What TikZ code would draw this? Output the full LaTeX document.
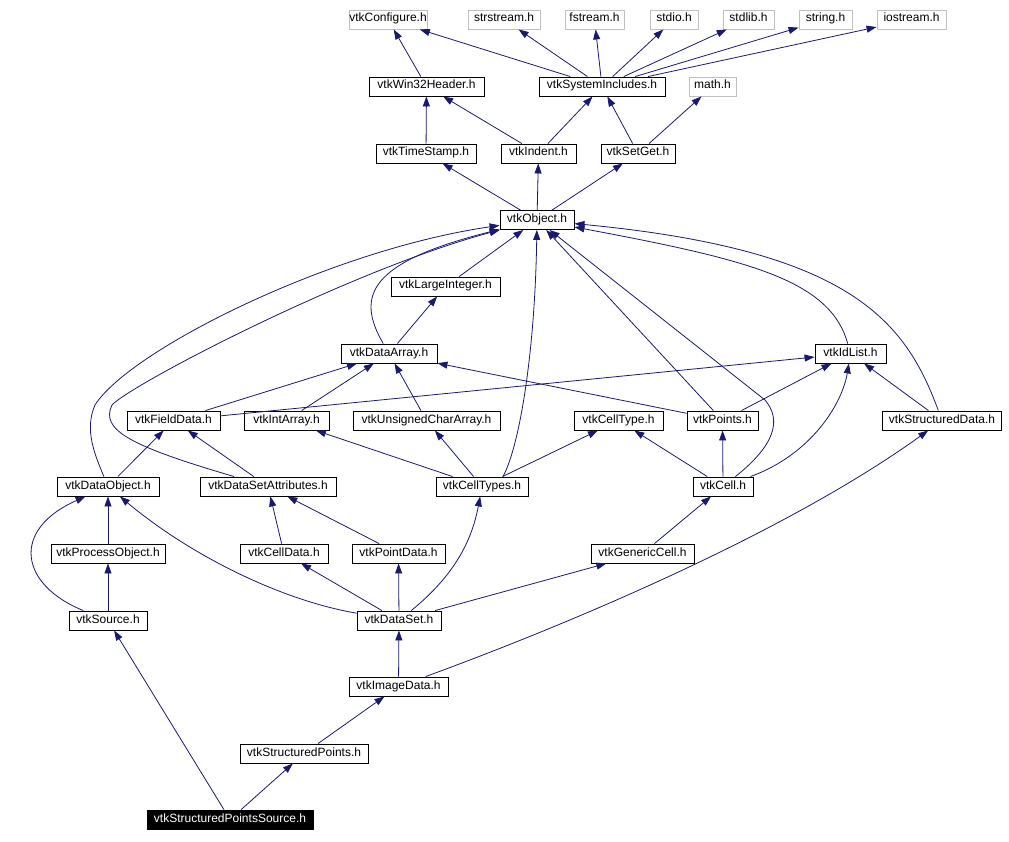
\documentclass[tikz,border=0pt]{standalone}
\usepackage{fontspec}
\setmainfont{Liberation Sans}
\usetikzlibrary{arrows.meta}
\definecolor{edgeblue}{RGB}{25,25,112}
\definecolor{boxgray}{RGB}{191,191,191}
\begin{document}
\begin{tikzpicture}[
  x=1pt, y=-1pt,
  box/.style={draw=black, line width=0.9pt, fill=white, inner sep=0pt, minimum height=19pt, text height=8pt, text depth=3pt, font=\fontsize{12}{13}\selectfont},
  sysbox/.style={box, draw=boxgray},
  mainbox/.style={box, fill=black, text=white},
  edge/.style={draw=edgeblue, line width=0.8pt, -{Triangle[length=10pt,width=7pt]}}
]
\useasboundingbox (0,0) rectangle (1009,842);
% system headers
\node[sysbox, minimum width=78pt] (conf) at (388,19.5) {vtkConfigure.h};
\node[sysbox, minimum width=72pt] (strstr) at (504,19.5) {strstream.h};
\node[sysbox, minimum width=59pt] (fstr) at (594.5,19.5) {fstream.h};
\node[sysbox, minimum width=48pt] (stdioh) at (674,19.5) {stdio.h};
\node[sysbox, minimum width=51pt] (stdlibh) at (748.5,19.5) {stdlib.h};
\node[sysbox, minimum width=53pt] (stringh) at (825.5,19.5) {string.h};
\node[sysbox, minimum width=69pt] (iostr) at (911.5,19.5) {iostream.h};
\node[box, minimum width=115pt] (win) at (426.5,86.5) {vtkWin32Header.h};
\node[box, minimum width=126pt] (sysinc) at (602,86.5) {vtkSystemIncludes.h};
\node[sysbox, minimum width=47pt] (mathh) at (712.5,86.5) {math.h};
\node[box, minimum width=100pt] (tstamp) at (426,153.5) {vtkTimeStamp.h};
\node[box, minimum width=75pt] (indent) at (538.5,153.5) {vtkIndent.h};
\node[box, minimum width=74pt] (setget) at (638,153.5) {vtkSetGet.h};
\node[box, minimum width=74pt] (object) at (537,220) {vtkObject.h};
\node[box, minimum width=109pt] (largeint) at (445.5,286.5) {vtkLargeInteger.h};
\node[box, minimum width=96pt] (darray) at (389,353.5) {vtkDataArray.h};
\node[box, minimum width=71pt] (idlist) at (850.5,353.5) {vtkIdList.h};
\node[box, minimum width=93pt] (fdata) at (173.5,420.5) {vtkFieldData.h};
\node[box, minimum width=85pt] (intarr) at (286.5,420.5) {vtkIntArray.h};
\node[box, minimum width=147pt] (ucarr) at (426.5,420.5) {vtkUnsignedCharArray.h};
\node[box, minimum width=89pt] (celltype) at (618.5,420.5) {vtkCellType.h};
\node[box, minimum width=71pt] (points) at (722.5,420.5) {vtkPoints.h};
\node[box, minimum width=119pt] (sdata) at (942,420.5) {vtkStructuredData.h};
\node[box, minimum width=102pt] (dobj) at (108,486.5) {vtkDataObject.h};
\node[box, minimum width=136pt] (dsattr) at (268,486.5) {vtkDataSetAttributes.h};
\node[box, minimum width=92pt] (celltypes) at (482,486.5) {vtkCellTypes.h};
\node[box, minimum width=60pt] (cell) at (723,486.5) {vtkCell.h};
\node[box, minimum width=114pt] (procobj) at (108,553.5) {vtkProcessObject.h};
\node[box, minimum width=88pt] (celldata) at (284,553.5) {vtkCellData.h};
\node[box, minimum width=93pt] (pointdata) at (398.5,553.5) {vtkPointData.h};
\node[box, minimum width=103pt] (gencell) at (642.5,553.5) {vtkGenericCell.h};
\node[box, minimum width=78pt] (source) at (108,620.5) {vtkSource.h};
\node[box, minimum width=84pt] (dataset) at (399,620.5) {vtkDataSet.h};
\node[box, minimum width=99pt] (imgdata) at (398.5,686.5) {vtkImageData.h};
\node[box, minimum width=128pt] (spoints) at (304,753.5) {vtkStructuredPoints.h};
\node[mainbox, minimum width=166pt] (sps) at (230,819.5) {vtkStructuredPointsSource.h};
% includes
\draw[edge] (sps) -- (source);
\draw[edge] (sps) -- (spoints);
\draw[edge] (spoints) -- (imgdata);
\draw[edge] (imgdata) -- (dataset);
\draw[edge] (imgdata) .. controls (580,620) and (790,530) .. (sdata);
\draw[edge] (source) .. controls (20,585) and (10,530) .. (dobj);
\draw[edge] (source) -- (procobj);
\draw[edge] (procobj) -- (dobj);
\draw[edge] (dataset) .. controls (280,600) and (190,555) .. (dobj);
\draw[edge] (dataset) -- (celldata);
\draw[edge] (dataset) -- (pointdata);
\draw[edge] (dataset) .. controls (455,575) and (472,540) .. (celltypes);
\draw[edge] (dataset) -- (gencell);
\draw[edge] (gencell) -- (cell);
\draw[edge] (celldata) -- (dsattr);
\draw[edge] (pointdata) -- (dsattr);
\draw[edge] (dobj) -- (fdata);
\draw[edge] (dobj) .. controls (95,455) and (84,430) .. (95,405) .. controls (130,350) and (330,250) .. (object);
\draw[edge] (dsattr) -- (fdata);
\draw[edge] (dsattr) .. controls (130,446) and (100,430) .. (112,405) .. controls (130,385) and (350,270) .. (object);
\draw[edge] (celltypes) -- (intarr);
\draw[edge] (celltypes) -- (ucarr);
\draw[edge] (celltypes) -- (celltype);
\draw[edge] ([xshift=21pt]celltypes.north) .. controls (520,445) and (535,350) .. (object);
\draw[edge] (cell) -- (celltype);
\draw[edge] (cell) -- (points);
\draw[edge] (cell) .. controls (810,455) and (842,405) .. (idlist);
\draw[edge] (cell) .. controls (775,445) and (782,420) .. (765,400) -- (object);
\draw[edge] (fdata) -- (darray);
\draw[edge] (fdata) -- (idlist);
\draw[edge] (intarr) -- (darray);
\draw[edge] (ucarr) -- (darray);
\draw[edge] (points) -- (darray);
\draw[edge] (points) -- (idlist);
\draw[edge] (points) -- (object);
\draw[edge] (sdata) -- (idlist);
\draw[edge] (sdata) .. controls (905,320) and (850,250) .. (object);
\draw[edge] (idlist) .. controls (830,280) and (750,260) .. (object);
\draw[edge] (darray) -- (largeint);
\draw[edge] (darray) .. controls (355,295) and (370,262) .. (object);
\draw[edge] (largeint) -- (object);
\draw[edge] (object) -- (tstamp);
\draw[edge] (object) -- (indent);
\draw[edge] (object) -- (setget);
\draw[edge] (tstamp) -- (win);
\draw[edge] (indent) -- (win);
\draw[edge] (indent) -- (sysinc);
\draw[edge] (setget) -- (sysinc);
\draw[edge] (setget) -- (mathh);
\draw[edge] (win) -- (conf);
\draw[edge] (sysinc) -- (conf);
\draw[edge] (sysinc) -- (strstr);
\draw[edge] (sysinc) -- (fstr);
\draw[edge] (sysinc) -- (stdioh);
\draw[edge] (sysinc) -- (stdlibh);
\draw[edge] (sysinc) -- (stringh);
\draw[edge] (sysinc) -- (iostr);
\end{tikzpicture}
\end{document}
